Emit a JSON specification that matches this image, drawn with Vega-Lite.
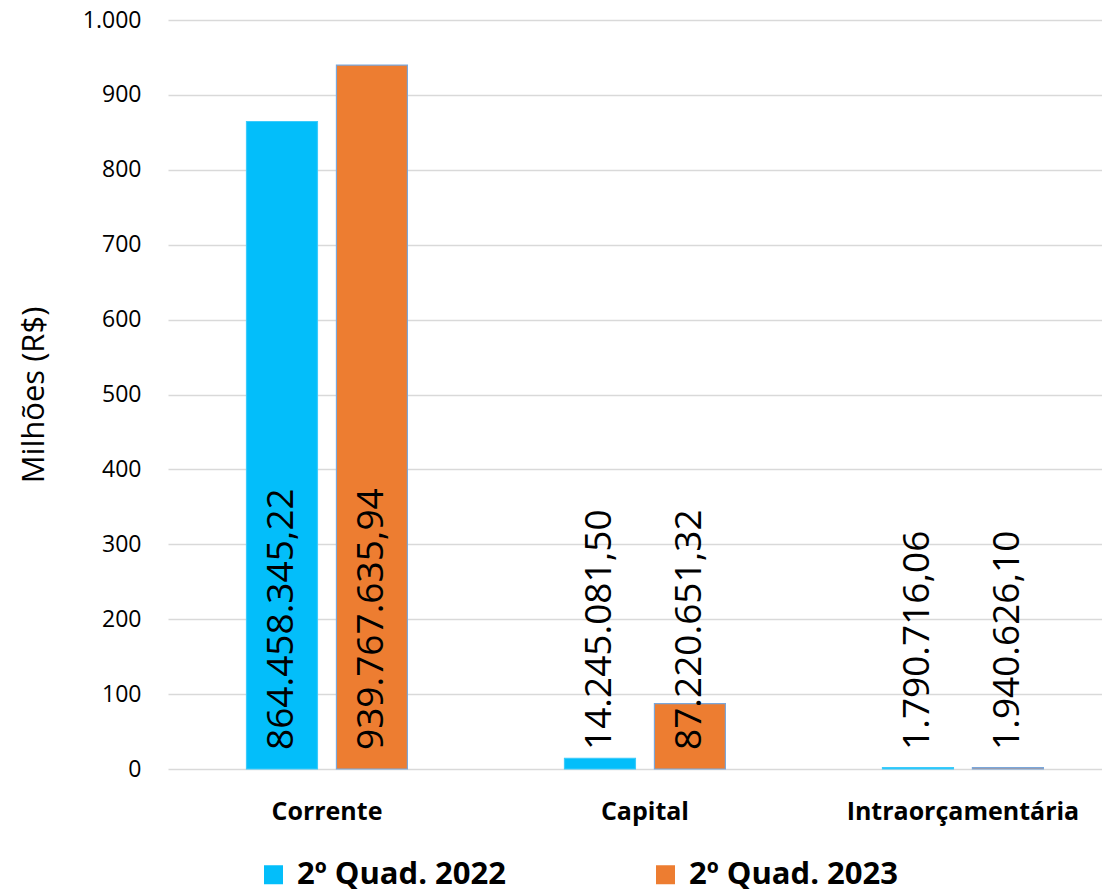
{
  "$schema": "https://vega.github.io/schema/vega-lite/v6.json",
  "width": 934,
  "height": 749,
  "autosize": {"type": "none"},
  "padding": {"left": 168, "top": 20, "right": 0, "bottom": 123},
  "background": "white",
  "config": {
    "locale": {"number": {"decimal": ",", "thousands": ".", "grouping": [3], "currency": ["R$", ""]}},
    "view": {"stroke": null},
    "font": "Open Sans"
  },
  "data": {
    "values": [
      {"categoria": "Corrente", "serie": "2º Quad. 2022", "valor": 864.45834522, "rotulo": "864.458.345,22"},
      {"categoria": "Corrente", "serie": "2º Quad. 2023", "valor": 939.76763594, "rotulo": "939.767.635,94"},
      {"categoria": "Capital", "serie": "2º Quad. 2022", "valor": 14.2450815, "rotulo": "14.245.081,50"},
      {"categoria": "Capital", "serie": "2º Quad. 2023", "valor": 87.22065132, "rotulo": "87.220.651,32"},
      {"categoria": "Intraorçamentária", "serie": "2º Quad. 2022", "valor": 1.79071606, "rotulo": "1.790.716,06"},
      {"categoria": "Intraorçamentária", "serie": "2º Quad. 2023", "valor": 1.9406261, "rotulo": "1.940.626,10"}
    ]
  },
  "encoding": {
    "x": {
      "field": "categoria",
      "type": "nominal",
      "sort": ["Corrente", "Capital", "Intraorçamentária"],
      "scale": {"paddingInner": 0.494, "paddingOuter": 0.2156, "align": 0.5725},
      "axis": {
        "title": null,
        "labelAngle": 0,
        "labelFont": "Open Sans",
        "labelFontSize": 25,
        "labelFontWeight": "bold",
        "labelColor": "#000000",
        "labelPadding": 30,
        "labelLimit": 0,
        "ticks": false,
        "domain": false,
        "grid": false
      }
    },
    "xOffset": {
      "field": "serie",
      "type": "nominal",
      "scale": {"paddingInner": 0.211, "paddingOuter": 0}
    }
  },
  "layer": [
    {
      "mark": {"type": "bar", "strokeWidth": 1.2},
      "encoding": {
        "y": {
          "field": "valor",
          "type": "quantitative",
          "scale": {"domain": [0, 1000], "nice": false},
          "axis": {
            "title": "Milhões (R$)",
            "values": [0, 100, 200, 300, 400, 500, 600, 700, 800, 900, 1000],
            "format": ",d",
            "grid": true,
            "gridColor": "#D9D9D9",
            "gridWidth": 1.5,
            "domain": false,
            "ticks": false,
            "labelFont": "Open Sans",
            "labelFontSize": 23,
            "labelColor": "#000000",
            "labelPadding": 27,
            "titleFont": "Open Sans",
            "titleFontSize": 31,
            "titleFontWeight": "normal",
            "titleColor": "#000000",
            "titlePadding": 32
          }
        },
        "fill": {
          "field": "serie",
          "type": "nominal",
          "scale": {"domain": ["2º Quad. 2022", "2º Quad. 2023"], "range": ["#03BEFA", "#ED7D31"]},
          "legend": {
            "orient": "none",
            "legendX": 90,
            "legendY": 839,
            "direction": "horizontal",
            "title": null,
            "symbolType": "square",
            "symbolSize": 361,
            "symbolStrokeWidth": 0,
            "labelFont": "Open Sans",
            "labelFontSize": 31,
            "labelFontWeight": "bold",
            "labelColor": "#000000",
            "labelOffset": 8,
            "labelLimit": 0,
            "columnPadding": 144,
            "padding": 0
          }
        },
        "stroke": {
          "field": "serie",
          "type": "nominal",
          "scale": {"domain": ["2º Quad. 2022", "2º Quad. 2023"], "range": ["#3CCBFB", "#7BA7DA"]},
          "legend": null
        }
      }
    },
    {
      "mark": {"type": "text", "angle": -90, "align": "left", "baseline": "middle", "dx": 19, "fontSize": 37, "font": "Open Sans", "color": "#000000"},
      "encoding": {
        "y": {"datum": 0, "type": "quantitative"},
        "text": {"field": "rotulo", "type": "nominal"}
      }
    }
  ]
}
